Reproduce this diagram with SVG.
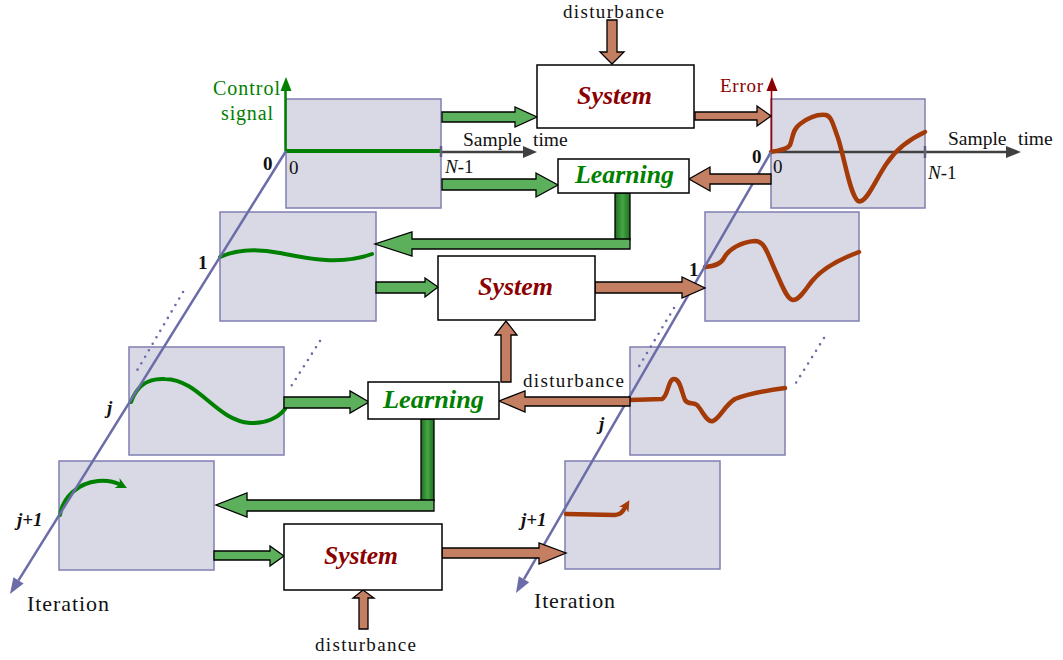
<svg xmlns="http://www.w3.org/2000/svg" width="1063" height="660" viewBox="0 0 1063 660">
<defs>
<style>
.panel{fill:#d9d9e6;stroke:#7f7fb2;stroke-width:1.5}
.box{fill:#fff;stroke:#000;stroke-width:1.5}
.ga{fill:#5cb05c;stroke:#000;stroke-width:1.3}
.ba{fill:#c47e62;stroke:#000;stroke-width:1.3}
.bar{fill:url(#gbar);stroke:#000;stroke-width:1.3}
.t{font-family:"Liberation Serif","Times New Roman",serif;fill:#111;font-size:19px}
.b{font-weight:bold}
.bi{font-weight:bold;font-style:italic}
.sys{font-family:"Liberation Serif","Times New Roman",serif;font-weight:bold;font-style:italic;font-size:25px;fill:#8b0000}
.lrn{font-family:"Liberation Serif","Times New Roman",serif;font-weight:bold;font-style:italic;font-size:25px;fill:#008000}
.gc{fill:none;stroke:#008000;stroke-width:4;stroke-linecap:round;stroke-linejoin:round}
.bc{fill:none;stroke:#a33a08;stroke-width:4.5;stroke-linecap:round;stroke-linejoin:round}
.iax{stroke:#6c6ca8;stroke-width:2.5;fill:none}
.iah{fill:#6c6ca8}
.dots{stroke:#6c6ca8;stroke-width:2.6;stroke-dasharray:0 7.5;stroke-linecap:round;fill:none}
.tax{stroke:#404040;stroke-width:2.5;fill:none}
</style>
<linearGradient id="gbar" x1="0" y1="0" x2="1" y2="0">
<stop offset="0" stop-color="#1e6e1e"/>
<stop offset="0.5" stop-color="#46a646"/>
<stop offset="1" stop-color="#1e6e1e"/>
</linearGradient>
<marker id="gm" markerUnits="userSpaceOnUse" markerWidth="11" markerHeight="11" viewBox="0 0 10 10" refX="4" refY="5" orient="auto">
<path d="M0,0 L10,5 L0,10 L3,5 z" fill="#008000"/>
</marker>
<marker id="bm" markerUnits="userSpaceOnUse" markerWidth="11" markerHeight="11" viewBox="0 0 10 10" refX="4" refY="5" orient="auto">
<path d="M0,0 L10,5 L0,10 L3,5 z" fill="#a33a08"/>
</marker>
</defs>

<g id="panel-control-0"><rect class="panel" x="286" y="99" width="155" height="109"/>
<line class="tax" x1="441" y1="152" x2="524" y2="152"/>
<polygon fill="#404040" points="537,152 523,146 523,158"/>
<line x1="286" y1="151" x2="441" y2="151" stroke="#008000" stroke-width="4"/>
<line x1="441" y1="146" x2="441" y2="157" stroke="#606080" stroke-width="2.5"/>
<line x1="285.5" y1="151" x2="285.5" y2="89" stroke="#008000" stroke-width="2.5"/>
<polygon fill="#008000" points="286,77 280.5,91 291.5,91"/></g>
<g id="panel-control-1"><rect class="panel" x="220" y="212" width="156" height="109"/>
<path class="gc" d="M220,257 C235,250 255,248 280,253 S340,266 372,254"/></g>
<g id="panel-control-j"><rect class="panel" x="129" y="347" width="155" height="108"/>
<path class="gc" d="M131,402 C138,383 150,378 165,379 C200,380 215,420 250,423 C265,424 278,418 285,409"/></g>
<g id="panel-control-j1"><rect class="panel" x="59" y="461" width="155" height="109"/>
<path class="gc" d="M60,515 C63,497 78,483 98,481 C108,480 115,482 121,485" marker-end="url(#gm)"/></g>

<g id="panel-error-0"><rect class="panel" x="771" y="99" width="154" height="109"/>
<line class="tax" x1="771" y1="152" x2="1007" y2="152"/>
<polygon fill="#404040" points="1021,152 1006,146 1006,158"/>
<line x1="925" y1="146" x2="925" y2="158" stroke="#606080" stroke-width="2.5"/>
<line x1="771.5" y1="152" x2="771.5" y2="89" stroke="#a00000" stroke-width="1.6"/>
<polygon fill="#8b0000" points="772,77 766.5,91 777.5,91"/>
<path class="bc" d="M771,152 C780,150 787,150 790,145 C793,138 792,130 800,124 C808,118 818,114 826,115 C832,117 833,125 838,138 C845,160 850,195 858,201 C866,205 875,180 887,163 C897,148 912,138 925,132"/></g>
<g id="panel-error-1"><rect class="panel" x="705" y="212" width="154" height="109"/>
<path class="bc" d="M705,267 C715,266 721,264 724,258 C728,250 740,242 755,241 C765,241 768,255 775,270 C782,285 787,300 793,300 C800,300 806,288 813,280 C825,266 843,258 859,252"/></g>
<g id="panel-error-j"><rect class="panel" x="630" y="347" width="155" height="108"/>
<path class="bc" d="M630,400 L662,399 C668,397 668,379 674,379 C680,379 681,390 685,400 C688,405 693,402 697,405 C702,410 707,423 713,421 C720,418 725,405 735,399 C750,393 770,390 785,388"/></g>
<g id="panel-error-j1"><rect class="panel" x="565" y="461" width="155" height="108"/>
<path class="bc" d="M566,514 L615,515 C621,515 623,511 626,506" marker-end="url(#bm)"/></g>

<g id="axes">
<line class="iax" x1="286" y1="151" x2="18.5" y2="580.4"/>
<polygon class="iah" points="10,594 23.6,583.6 13.4,577.2"/>
<line class="iax" x1="771" y1="152" x2="524" y2="579.2"/>
<polygon class="iah" points="516,593 529.2,582.2 518.8,576.2"/>
<line class="dots" x1="183" y1="292" x2="135" y2="374"/>
<line class="dots" x1="320" y1="341" x2="290" y2="388"/>
<line class="dots" x1="674" y1="308" x2="638" y2="368"/>
<line class="dots" x1="824" y1="338" x2="794" y2="386"/>
</g>

<g id="connectors">
<polygon class="ga" points="442,112 515,112 515,107 537,117 515,127 515,122 442,122"/>
<polygon class="ga" points="442,179 536,179 536,173 558,185 536,197 536,190 442,190"/>
<polygon class="ba" points="695,112 757,112 757,106 771,116 757,126 757,120 695,120"/>
<polygon class="ba" points="771,174 710,174 710,167 689,179 710,191 710,184 771,184"/>
<polygon class="ba" points="607,20 617,20 617,52 624,52 612,64 600,52 607,52"/>
<rect class="bar" x="615" y="193" width="15" height="47"/>
<polygon class="ga" points="630,239 412,239 412,232 375,244 412,256 412,249 630,249"/>
<polygon class="ga" points="376,282 425,282 425,278 438,287 425,297 425,293 376,293"/>
<polygon class="ba" points="595,282 682,282 682,277 705,288 682,298 682,293 595,293"/>
<polygon class="ba" points="501,382 501,335 495,335 506,321 517,335 511,335 511,382"/>
<polygon class="ba" points="630,397 525,397 525,391 499,401 525,412 525,406 630,406"/>
<polygon class="ga" points="284,397 350,397 350,391 369,402 350,413 350,408 284,408"/>
<rect class="bar" x="421" y="419" width="13" height="82"/>
<polygon class="ga" points="434,500 247,500 247,493 216,505 247,517 247,511 434,511"/>
<polygon class="ga" points="214,551 270,551 270,546 284,556 270,566 270,560 214,560"/>
<polygon class="ba" points="442,548 539,548 539,543 566,553 539,564 539,558 442,558"/>
<polygon class="ba" points="359,629 359,598 353,598 363,590 374,598 368,598 368,629"/>
</g>

<g id="system-top"><rect class="box" x="537" y="65" width="157" height="63"/><text class="sys" x="577" y="104" textLength="75" lengthAdjust="spacingAndGlyphs">System</text></g>
<g id="learning-top"><rect class="box" x="558" y="159" width="131" height="34"/><text class="lrn" x="575" y="183" textLength="99" lengthAdjust="spacingAndGlyphs">Learning</text></g>
<g id="system-mid"><rect class="box" x="438" y="256" width="157" height="64"/><text class="sys" x="478" y="295" textLength="75" lengthAdjust="spacingAndGlyphs">System</text></g>
<g id="learning-mid"><rect class="box" x="368" y="382" width="131" height="37"/><text class="lrn" x="383" y="408" textLength="101" lengthAdjust="spacingAndGlyphs">Learning</text></g>
<g id="system-bottom"><rect class="box" x="284" y="524" width="158" height="66"/><text class="sys" x="324" y="564" textLength="74" lengthAdjust="spacingAndGlyphs">System</text></g>

<g id="labels">
<text class="t" x="563" y="18" textLength="101" lengthAdjust="spacing">disturbance</text>
<text class="t" x="523" y="387" textLength="101" lengthAdjust="spacing">disturbance</text>
<text class="t" x="315" y="651" textLength="101" lengthAdjust="spacing">disturbance</text>
<text class="t" x="213" y="95" style="fill:#008000;font-size:20px" textLength="67" lengthAdjust="spacing">Control</text>
<text class="t" x="221" y="120" style="fill:#008000;font-size:20px" textLength="52" lengthAdjust="spacing">signal</text>
<text class="t" x="720" y="92" style="fill:#8b0000" textLength="43" lengthAdjust="spacing">Error</text>
<text class="t" x="463" y="146" style="font-size:19.5px">Sample</text>
<text class="t" x="533" y="146" style="font-size:19.5px">time</text>
<text class="t" x="948" y="145" style="font-size:19.5px">Sample</text>
<text class="t" x="1018" y="145" style="font-size:19.5px">time</text>
<text class="t" x="289" y="174">0</text>
<text class="t" x="445" y="173"><tspan font-style="italic">N</tspan>-1</text>
<text class="t" x="773" y="173">0</text>
<text class="t" x="928" y="179"><tspan font-style="italic">N</tspan>-1</text>
<text class="t b" x="263" y="170">0</text>
<text class="t b" x="752" y="163">0</text>
<text class="t b" x="198" y="269">1</text>
<text class="t b" x="689" y="276">1</text>
<text class="t bi" x="107" y="414">j</text>
<text class="t bi" x="599" y="430">j</text>
<text class="t bi" x="17" y="526">j+1</text>
<text class="t bi" x="521" y="526">j+1</text>
<text class="t" x="27" y="611" style="font-size:22px" textLength="82" lengthAdjust="spacing">Iteration</text>
<text class="t" x="534" y="608" style="font-size:22px" textLength="81" lengthAdjust="spacing">Iteration</text>
</g>
</svg>
